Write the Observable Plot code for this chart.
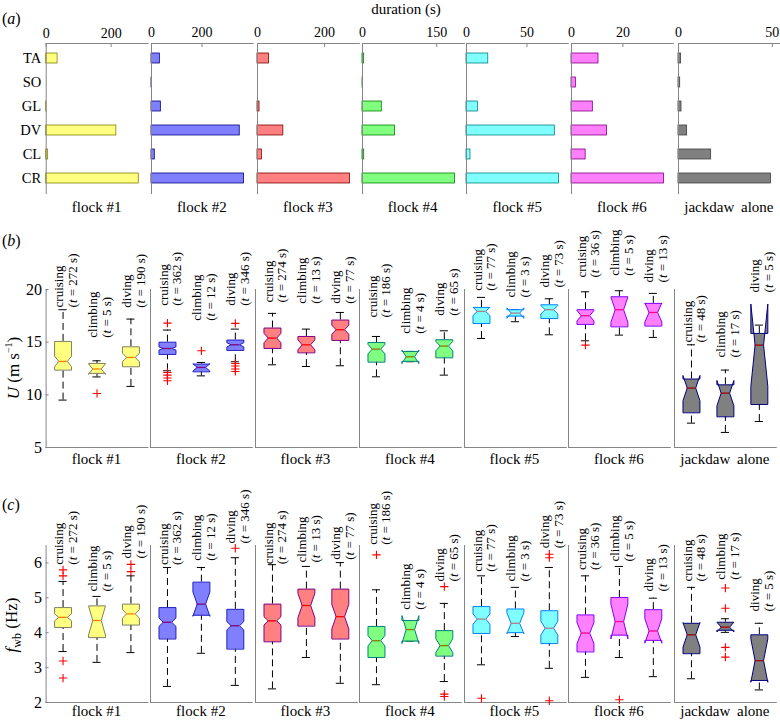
<!DOCTYPE html>
<html>
<head>
<meta charset="utf-8">
<script src="https://cdn.jsdelivr.net/npm/d3@7"></script>
<script src="https://cdn.jsdelivr.net/npm/@observablehq/plot@0.6"></script>
<style>
  body { margin: 0; background: #fff; }
  #root { position: relative; width: 780px; height: 722px; overflow: hidden;
          font-family: "Liberation Serif", "Times New Roman", Times, "DejaVu Serif", serif; color: #000; }
  .lbl { position: absolute; white-space: nowrap; line-height: 1; font-family: "Liberation Serif", "Times New Roman", Times, "DejaVu Serif", serif; }
  #root svg, #root svg text { font-family: "Liberation Serif", "Times New Roman", Times, "DejaVu Serif", serif !important; }
  #root svg { position: absolute; }
</style>
</head>
<body>
<div id="root"></div>
<script>
// ---------------- DATA ----------------
const groups = ["flock #1", "flock #2", "flock #3", "flock #4", "flock #5", "flock #6", "jackdaw alone"];
const behaviours = ["TA", "SO", "GL", "DV", "CL", "CR"];
// (a) duration (s) of each behaviour, one value per group
const durTA = [35, 33, 34, 3.4, 18, 10.5, 1.4];
const durSO = [0, 1, 0, 1, 0, 1.7, 0.9];
const durGL = [0.5, 37, 6, 39, 9.4, 8.3, 1.6];
const durDV = [216, 349, 77, 65.5, 73, 13.8, 4.6];
const durCL = [6, 13, 13, 3.4, 3.3, 5.5, 17.4];
const durCR = [285, 366, 276, 187, 76.5, 36, 49.3];
const durTicks = [[0, 200], [0, 200], [0, 200], [0, 150], [0, 50], [0, 20], [0, 50]];

const phases = ["cruising", "climbing", "diving"];
const phaseSeconds = [[272, 5, 190], [362, 12, 346], [274, 13, 77], [186, 4, 65], [77, 3, 73], [36, 5, 13], [48, 17, 5]];

// (b) airspeed U (m/s): [group][phase]
const uLow   = [[9.5, 11.7, 10.8], [12.28, 11.8, 13.14], [12.85, 12.69, 12.76], [11.71, 13.14, 11.87], [15.35, 16.94, 15.7], [15.13, 15.67, 15.45], [7.31, 6.43, 7.47]];
const uQ1    = [[12.38, 12.0, 12.7], [13.87, 12.22, 14.25], [14.44, 14.02, 15.2], [13.14, 13.14, 13.55], [16.81, 17.44, 17.28], [16.72, 16.49, 16.56], [8.33, 7.95, 9.12]];
const uMed   = [[13.17, 12.45, 13.55], [14.4, 12.6, 14.75], [15.39, 14.75, 16.18], [14.34, 13.61, 14.63], [17.92, 17.76, 18.08], [17.51, 18.08, 17.82], [10.64, 10.16, 14.72]];
const uQ3    = [[15.07, 12.98, 14.56], [15.0, 12.92, 15.2], [16.34, 15.54, 17.1], [14.97, 14.12, 15.23], [18.3, 18.08, 18.55], [18.08, 19.31, 18.68], [11.5, 10.95, 15.83]];
const uHigh  = [[18.08, 13.23, 17.19], [16.15, 13.07, 16.24], [17.73, 16.24, 17.82], [15.54, 14.12, 16.08], [19.25, 18.08, 19.12], [19.78, 19.88, 19.63], [14.75, 12.35, 16.62]];
const uNotch = [[0.5, 0.5, 0.4], [0.15, 0.35, 0.2], [0.45, 0.48, 0.43], [0.45, 0.65, 0.45], [0.4, 0.5, 0.4], [0.5, 1.2, 0.9], [1.2, 1.2, 3.9]];
const uOut   = [[[], [10.13], []], [[16.81, 12.12, 11.87, 11.59, 11.33], [14.18], [16.78, 12.98, 12.73, 12.45, 12.22]], [[], [], []], [[], [], []], [[], [], []], [[14.72], [], []], [[], [], []]];
const uLabelAt = [[18.3, 15.42, 18.27], [18.46, 17.03, 18.46], [18.77, 18.65, 18.65], [17.35, 15.8, 17.51], [19.88, 19.25, 20.19], [21.14, 21.31, 20.67], [14.97, 13.55, 19.72]];
const uTicks = [5, 10, 15, 20];
const uDomain = [5, 20];

// (c) wingbeat frequency f_wb (Hz): [group][phase]
const fLow   = [[3.46, 3.15, 3.43], [2.46, 3.41, 2.49], [2.39, 3.29, 2.55], [2.51, 3.75, 2.60], [3.08, 3.89, 2.98], [2.72, 3.29, 2.74], [2.68, 4.01, 2.36]];
const fQ1    = [[4.16, 3.87, 4.23], [3.83, 4.49, 3.54], [3.75, 4.20, 3.83], [3.30, 3.75, 3.34], [3.99, 3.99, 3.70], [3.46, 3.92, 3.77], [3.41, 4.06, 2.62]];
const fMed   = [[4.44, 4.35, 4.54], [4.30, 4.82, 4.20], [4.34, 4.78, 4.46], [3.77, 4.09, 3.63], [4.39, 4.27, 4.13], [3.99, 4.32, 4.05], [3.94, 4.16, 3.20]];
const fQ3    = [[4.72, 4.77, 4.82], [4.72, 5.45, 4.67], [4.82, 5.25, 5.25], [4.18, 4.35, 4.06], [4.75, 4.68, 4.63], [4.51, 5.01, 4.66], [4.27, 4.30, 3.94]];
const fHigh  = [[5.47, 5.04, 5.63], [5.87, 5.87, 6.15], [5.95, 5.90, 6.01], [5.23, 4.35, 4.84], [5.63, 5.30, 5.87], [5.63, 5.90, 4.99], [5.30, 4.40, 4.27]];
const fNotch = [[0.1, 0.42, 0.12], [0.12, 0.35, 0.12], [0.12, 0.35, 0.35], [0.15, 0.4, 0.2], [0.15, 0.3, 0.2], [0.3, 0.5, 0.35], [0.35, 0.14, 0.62]];
const fOut   = [[[5.80, 5.63, 3.19, 2.70], [], [5.96, 5.75]], [[], [], [6.42]], [[], [], []], [[6.23], [], [5.32, 2.24, 2.17]], [[2.12], [], [6.25, 6.15, 2.05]], [[], [2.08], []], [[], [5.28, 4.70, 3.58, 3.30], []]];
const fLabelAt = [[5.95, 5.18, 6.13], [5.94, 6.06, 6.56], [5.96, 6.01, 6.09], [6.52, 4.66, 5.47], [5.75, 5.47, 6.42], [5.80, 6.04, 5.18], [5.47, 5.52, 4.61]];
const fTicks = [2, 3, 4, 5, 6];
const fDomain = [2, 6.5];

// ---------------- STYLE / LAYOUT ----------------
const FONT = "'Liberation Serif', 'Times New Roman', Times, 'DejaVu Serif', serif";
const AXIS = "#858585";
const fills    = ["#ffff80", "#8080ff", "#ff8080", "#80ff80", "#80ffff", "#ff80ff", "#808080"];
const barEdges = ["#808000", "#000080", "#800000", "#008000", "#008080", "#800080", "#404040"];
const boxEdges = ["#808060", "#2020c0", "#800080", "#008080", "#0080ff", "#8000ff", "#000080"];
const medians  = ["#ff8000", "#800080", "#ff0000", "#808000", "#b08080", "#ff0080", "#a00000"];
const aLeft = [45.7, 151, 257, 361.7, 466.3, 571, 678];
const bLeft = [45.6, 150, 254.5, 359, 463.5, 568, 674];
const PW = 101.8;

const root = document.getElementById("root");
const baseStyle = {fontFamily: FONT, fontSize: "13px", background: "transparent", overflow: "visible", color: "#000"};

function place(svg, left, top) {
  svg.style.left = left + "px";
  svg.style.top = top + "px";
  root.appendChild(svg);
}
function label(html, x, y, size, opts = {}) {
  const d = document.createElement("div");
  d.className = "lbl";
  d.innerHTML = html;
  d.style.fontSize = size + "px";
  d.style.left = x + "px";
  d.style.top = y + "px";
  const ax = opts.align === "left" ? "0" : "-50%";
  d.style.transform = `translate(${ax},-50%)` + (opts.rotate ? " rotate(-90deg)" : "");
  if (opts.wordSpacing) d.style.wordSpacing = opts.wordSpacing;
  root.appendChild(d);
}
function italicT(svg) {
  const ns = "http://www.w3.org/2000/svg";
  svg.querySelectorAll("tspan").forEach(ts => {
    const s = ts.textContent;
    if (s.startsWith("(t ")) {
      ts.textContent = "(";
      const it = document.createElementNS(ns, "tspan");
      it.setAttribute("font-style", "italic");
      it.textContent = "t";
      ts.appendChild(it);
      ts.appendChild(document.createTextNode(s.slice(2)));
    }
  });
}

// ---------------- (a) durations ----------------
const durByBehaviour = [durTA, durSO, durGL, durDV, durCL, durCR];
groups.forEach((g, i) => {
  const rows = behaviours.map((b, k) => ({behaviour: b, seconds: durByBehaviour[k][i]}));
  const maxX = d3.max(rows, d => d.seconds) * 1.1;
  const first = i === 0;
  const mL = first ? aLeft[0] : 3, mR = 5;
  const svg = Plot.plot({
    width: mL + PW + mR, height: 195,
    marginTop: 43, marginBottom: 2, marginLeft: mL, marginRight: mR,
    style: baseStyle,
    x: {domain: [0, maxX], axis: null, label: null},
    y: {domain: behaviours, paddingInner: 0.6, paddingOuter: 0.35, axis: null, label: null},
    marks: [
      Plot.barX(rows, {x: "seconds", y: "behaviour", fill: fills[i], stroke: barEdges[i], strokeWidth: 0.8}),
      Plot.frame({anchor: "top", stroke: AXIS}),
      Plot.frame({anchor: "left", stroke: AXIS}),
      Plot.tickX(durTicks[i], {x: d => d, stroke: AXIS, insetBottom: 146}),
      Plot.axisX({anchor: "top", ticks: durTicks[i], tickSize: 0, tickPadding: 6, fontSize: 14, label: null, tickFormat: d3.format("d")}),
      first ? Plot.axisY({anchor: "left", tickSize: 0, tickPadding: 5, fontSize: 14.5, label: null}) : null
    ]
  });
  place(svg, aLeft[i] - mL, 0);
  label(g, aLeft[i] + PW / 2, 207, 15, {wordSpacing: g.includes("jackdaw") ? "3px" : null});
});

// ---------------- (b), (c) notched box plots ----------------
function boxPanel(i, cfg) {
  const boxes = phases.map((p, j) => ({
    phase: p, idx: j, seconds: phaseSeconds[i][j],
    lo: cfg.low[i][j], q1: cfg.q1[i][j], med: cfg.med[i][j], q3: cfg.q3[i][j], hi: cfg.high[i][j],
    notch: cfg.notch[i][j], labelAt: cfg.labelAt[i][j]
  }));
  const outliers = boxes.flatMap(b => cfg.out[i][b.idx].map(v => ({idx: b.idx, v})));
  const W = 0.25, NW = 0.125, CAP = 0.12;
  const poly = boxes.flatMap(b => {
    const nlo = b.med - b.notch, nhi = b.med + b.notch;
    return [[-W, b.q1], [-W, nlo], [-NW, b.med], [-W, nhi], [-W, b.q3],
            [W, b.q3], [W, nhi], [NW, b.med], [W, nlo], [W, b.q1]]
      .map(([dx, v]) => ({box: b.idx, px: b.idx + dx, v}));
  });
  const first = i === 0;
  const mL = first ? bLeft[0] : 3, mR = 5;
  const svg = Plot.plot({
    width: mL + PW + mR, height: cfg.height,
    marginTop: cfg.marginTop, marginBottom: 2, marginLeft: mL, marginRight: mR,
    style: baseStyle,
    x: {domain: [-0.5, 2.5], axis: null, label: null},
    y: {domain: cfg.domain, axis: null, label: null},
    marks: [
      Plot.frame({anchor: "left", stroke: AXIS}),
      Plot.frame({anchor: "bottom", stroke: AXIS}),
      first ? Plot.tickY(cfg.ticks, {y: d => d, stroke: AXIS, insetRight: PW - 3}) : null,
      first ? Plot.axisY({anchor: "left", ticks: cfg.ticks, tickSize: 0, tickPadding: 4, fontSize: 16, label: null, tickFormat: d3.format("d")}) : null,
      Plot.ruleX(boxes, {x: "idx", y1: "q3", y2: "hi", stroke: "#000", strokeDasharray: "7,4"}),
      Plot.ruleX(boxes, {x: "idx", y1: "lo", y2: "q1", stroke: "#000", strokeDasharray: "7,4"}),
      Plot.ruleY(boxes, {y: "hi", x1: d => d.idx - CAP, x2: d => d.idx + CAP, stroke: "#000"}),
      Plot.ruleY(boxes, {y: "lo", x1: d => d.idx - CAP, x2: d => d.idx + CAP, stroke: "#000"}),
      Plot.line(poly, {x: "px", y: "v", z: "box", curve: "linear-closed", fill: fills[i], stroke: boxEdges[i], strokeWidth: 1}),
      Plot.ruleY(boxes, {y: "med", x1: d => d.idx - NW, x2: d => d.idx + NW, stroke: medians[i], strokeWidth: 1.3}),
      Plot.dot(outliers, {x: "idx", y: "v", symbol: "plus", stroke: "#ff0000", r: 2.8, strokeWidth: 1.1}),
      Plot.text(boxes, {x: "idx", y: "labelAt", text: d => `${d.phase}\n(t = ${d.seconds} s)`,
        rotate: -90, textAnchor: "start", lineAnchor: "middle", lineHeight: 1.05,
        fontSize: 13, dx: 2.5, fill: "#000"})
    ]
  });
  italicT(svg);
  place(svg, bLeft[i] - mL, cfg.top);
}

const uCfg = {low: uLow, q1: uQ1, med: uMed, q3: uQ3, high: uHigh, notch: uNotch, out: uOut, labelAt: uLabelAt,
  ticks: uTicks, domain: uDomain, top: 215, marginTop: 74, height: 234};
const fCfg = {low: fLow, q1: fQ1, med: fMed, q3: fQ3, high: fHigh, notch: fNotch, out: fOut, labelAt: fLabelAt,
  ticks: fTicks, domain: fDomain, top: 485, marginTop: 60, height: 219};

groups.forEach((g, i) => {
  boxPanel(i, uCfg);
  label(g, bLeft[i] + PW / 2, 459, 15, {wordSpacing: g.includes("jackdaw") ? "3px" : null});
  boxPanel(i, fCfg);
  label(g, bLeft[i] + PW / 2, 711, 15, {wordSpacing: g.includes("jackdaw") ? "3px" : null});
});

// ---------------- titles & axis labels ----------------
label("(<i>a</i>)", 2, 19, 16, {align: "left"});
label("duration (s)", 406, 9, 15);
label("(<i>b</i>)", 2, 241, 16, {align: "left"});
label("(<i>c</i>)", 2, 505, 16, {align: "left"});
label("<i>U</i> (m s<sup style='font-size:10px'>−1</sup>)", 13, 368, 17, {rotate: true});
label("<i>f</i><sub style='font-size:12px'>wb</sub> (Hz)", 13, 625, 17, {rotate: true});
</script>
</body>
</html>
